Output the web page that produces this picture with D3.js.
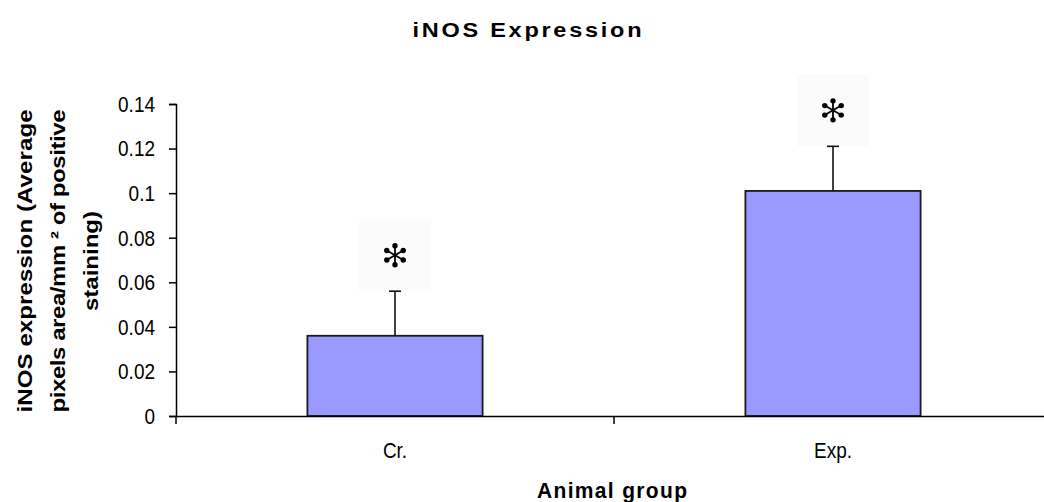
<!DOCTYPE html>
<html>
<head>
<meta charset="utf-8">
<script src="https://cdn.jsdelivr.net/npm/d3@7"></script>
<style>
  html, body { margin: 0; padding: 0; background: #fff; }
  svg { display: block; }
  text { font-family: Arial, "Liberation Sans", sans-serif; fill: #000; }
</style>
</head>
<body>
<svg id="chart" width="1044" height="502"></svg>
<script>
// ---- data ----
const categories = ["Cr.", "Exp."];
const meanValues = [0.036, 0.101];
const errorValues = [0.02, 0.02];
const yTicks = [0, 0.02, 0.04, 0.06, 0.08, 0.1, 0.12, 0.14];
const yTickLabels = ["0", "0.02", "0.04", "0.06", "0.08", "0.1", "0.12", "0.14"];
const significance = ["*", "*"];
const titleText = "iNOS Expression";
const xTitle = "Animal group";
const yTitleLines = ["iNOS expression (Average", "pixels area/mm \u00B2 of positive", "staining)"];

// ---- layout ----
const svg = d3.select("#chart");
const margin = { left: 176, top: 104, right: -8, bottom: 86 };
const W = 1044, H = 502;
const plotW = W - margin.left - margin.right;
const plotH = H - margin.top - margin.bottom;
const SY = 1.2; // vertical text stretch seen in the reference

const x = d3.scaleBand().domain(categories).range([0, plotW]).paddingInner(0).paddingOuter(0);
const y = d3.scaleLinear().domain([0, 0.14]).range([plotH, 0]);
const barW = x.bandwidth() * 0.4;

const g = svg.append("g").attr("transform", `translate(${margin.left},${margin.top})`);

// asterisk background boxes
const boxW = 72, boxH = 72;
g.selectAll("rect.sigbox").data(categories).enter().append("rect")
  .attr("class", "sigbox")
  .attr("x", d => x(d) + x.bandwidth() / 2 - boxW / 2)
  .attr("y", (d, i) => y(meanValues[i] + errorValues[i]) - boxH)
  .attr("width", boxW).attr("height", boxH)
  .attr("fill", "#fbfbfb");

// bars
g.selectAll("rect.bar").data(categories).enter().append("rect")
  .attr("class", "bar")
  .attr("x", d => x(d) + x.bandwidth() / 2 - barW / 2)
  .attr("y", (d, i) => y(meanValues[i]))
  .attr("width", barW)
  .attr("height", (d, i) => y(0) - y(meanValues[i]))
  .attr("fill", "#9999FF")
  .attr("stroke", "#1a1a1a")
  .attr("stroke-width", 1.8);

// error bars (upper only)
const capW = 12;
const eb = g.selectAll("g.err").data(categories).enter().append("g").attr("class", "err");
eb.append("line")
  .attr("x1", d => x(d) + x.bandwidth() / 2).attr("x2", d => x(d) + x.bandwidth() / 2)
  .attr("y1", (d, i) => y(meanValues[i]))
  .attr("y2", (d, i) => y(meanValues[i] + errorValues[i]))
  .attr("stroke", "#111").attr("stroke-width", 1.6);
eb.append("line")
  .attr("x1", d => x(d) + x.bandwidth() / 2 - capW / 2).attr("x2", d => x(d) + x.bandwidth() / 2 + capW / 2)
  .attr("y1", (d, i) => y(meanValues[i] + errorValues[i]))
  .attr("y2", (d, i) => y(meanValues[i] + errorValues[i]))
  .attr("stroke", "#111").attr("stroke-width", 1.6);

// significance asterisks (six teardrop spokes)
const spoke = 10.5;
categories.forEach((c, i) => {
  if (!significance[i]) return;
  const cx = x(c) + x.bandwidth() / 2;
  const cy = y(meanValues[i] + errorValues[i]) - boxH + 36;
  const ag = g.append("g").attr("transform", `translate(${cx},${cy})`);
  [90, 30, -30].forEach(a => {
    const r = a * Math.PI / 180;
    ag.append("line")
      .attr("x1", -spoke * Math.cos(r)).attr("y1", -spoke * Math.sin(r))
      .attr("x2", spoke * Math.cos(r)).attr("y2", spoke * Math.sin(r))
      .attr("stroke", "#000").attr("stroke-width", 1.8);
  });
  [90, 30, -30, 270, 210, 150].forEach(a => {
    const r = a * Math.PI / 180;
    ag.append("circle")
      .attr("cx", (spoke - 1) * Math.cos(r)).attr("cy", (spoke - 1) * Math.sin(r))
      .attr("r", 2.7).attr("fill", "#000");
  });
});

// y axis
const yAxis = d3.axisLeft(y).tickValues(yTicks).tickSize(7).tickPadding(14)
  .tickFormat((d, i) => yTickLabels[i]);
const ya = g.append("g").call(yAxis);
ya.select(".domain").attr("stroke", "#000").attr("stroke-width", 1.5);
ya.selectAll(".tick line").attr("stroke", "#000").attr("stroke-width", 1.5);
ya.selectAll(".tick text")
  .attr("font-size", 19).attr("font-family", "Arial, 'Liberation Sans', sans-serif")
  .attr("fill", "#111")
  .attr("transform", `scale(1,${SY})`);

// x axis line
const xa = g.append("g").attr("transform", `translate(0,${plotH})`)
  .call(d3.axisBottom(x).tickSize(0).tickFormat(""));
xa.select(".domain").attr("stroke", "#000").attr("stroke-width", 1.5);
// boundary ticks between categories
const bounds = categories.map(c => x(c)).concat([x(categories[categories.length - 1]) + x.bandwidth()]);
g.selectAll("line.xtick").data(bounds).enter().append("line")
  .attr("class", "xtick")
  .attr("x1", d => d).attr("x2", d => d)
  .attr("y1", plotH).attr("y2", plotH + 8)
  .attr("stroke", "#000").attr("stroke-width", 1.5);
// category labels
g.selectAll("text.xlab").data(categories).enter().append("text")
  .attr("class", "xlab")
  .attr("transform", d => `translate(${x(d) + x.bandwidth() / 2},${plotH + 42}) scale(1,${SY})`)
  .attr("text-anchor", "middle")
  .attr("font-size", 19)
  .attr("fill", "#111")
  .text(d => d);

// title
svg.append("text")
  .attr("transform", `translate(527,37) scale(1.12,0.98)`)
  .attr("text-anchor", "middle")
  .attr("font-size", 21).attr("font-weight", "bold")
  .attr("textLength", 229 / 1.12).attr("lengthAdjust", "spacing")
  .text(titleText);

// x title
svg.append("text")
  .attr("transform", `translate(${margin.left + plotW / 2 - 2},498) scale(1,1.05)`)
  .attr("text-anchor", "middle")
  .attr("font-size", 21).attr("font-weight", "bold")
  .attr("textLength", 150).attr("lengthAdjust", "spacing")
  .text(xTitle);

// y title (three rotated lines)
const yTitleX = [32, 65, 98];
const yTitleLen = [303, 303, 100];
yTitleLines.forEach((t, i) => {
  svg.append("text")
    .attr("transform", `translate(${yTitleX[i]},261) scale(1,${SY}) rotate(-90)`)
    .attr("text-anchor", "middle")
    .attr("font-size", 20).attr("font-weight", "bold")
    .attr("textLength", yTitleLen[i] / SY).attr("lengthAdjust", "spacing")
    .text(t);
});
</script>
</body>
</html>
